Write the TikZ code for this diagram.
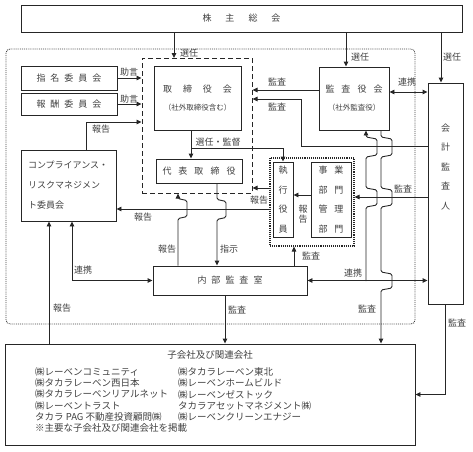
\documentclass[tikz,border=0pt]{standalone}
\usepackage{fontspec}
\setmainfont{Noto Sans CJK JP}
\usetikzlibrary{arrows.meta,positioning,calc}

\begin{document}
\begin{tikzpicture}[x=1pt, y=-1pt,
    box/.style={draw=black!85, line width=0.9pt, inner sep=0pt, text=black!75, font=\fontsize{9}{11}\selectfont},
    lbl/.style={inner sep=0pt, text=black!75, font=\fontsize{9}{11}\selectfont},
    arr/.style={-{Triangle[length=5pt,width=4.5pt]}, line width=0.9pt, draw=black!85},
    arrtwo/.style={{Triangle[length=5pt,width=4.5pt]}-{Triangle[length=5pt,width=4.5pt]}, line width=0.9pt, draw=black!85},
    grpdash/.style={draw=black!85, dash pattern=on 5pt off 3pt, line width=1pt, inner sep=0pt},
    grpdot/.style={draw=black!85, densely dotted, line width=1.1pt, inner sep=0pt}]
    \useasboundingbox (0,0) rectangle (473,451);

    % Company frame
    \draw[densely dotted, line width=0.9pt, black!75, rounded corners=4pt] (6,49) rectangle (415,324);

    % Boxes
    \node[box, minimum width=441pt, minimum height=27pt] (kabunushi) at (241.5,18.5) {株\hspace{14pt}主\hspace{14pt}総\hspace{14pt}会};
    \node[grpdash, minimum width=110pt, minimum height=135pt] (torigrp) at (197,125.5) {};
    \node[box, minimum width=87pt, minimum height=64pt] (torishimari) at (197.5,98) {};
    \node[lbl] (toritext) at (197.5,89) {取\hspace{11pt}締\hspace{11pt}役\hspace{11pt}会};
    \node[lbl, font=\fontsize{7.5}{9}\selectfont] (torisub) at (197.5,108) {（社外取締役含む）};
    \node[box, minimum width=86pt, minimum height=24pt] (daihyo) at (199,171) {代\hspace{7pt}表\hspace{7pt}取\hspace{7pt}締\hspace{7pt}役};
    \node[box, minimum width=96pt, minimum height=24pt] (shimei) at (69,78) {指\hspace{5pt}名\hspace{5pt}委\hspace{5pt}員\hspace{5pt}会};
    \node[box, minimum width=96pt, minimum height=22pt] (hoshu) at (69,104) {報\hspace{5pt}酬\hspace{5pt}委\hspace{5pt}員\hspace{5pt}会};
    \node[box, minimum width=95pt, minimum height=71pt, inner xsep=7pt, text width=81pt, align=left,
          font=\fontsize{9}{20}\selectfont] (compliance) at (68.5,185.5) {コンプライアンス・\\リスクマネジメン\\ト委員会};
    \node[box, minimum width=70pt, minimum height=63pt] (kansa) at (354,98.5) {};
    \node[lbl] (kansatext) at (354,89) {監\hspace{7pt}査\hspace{7pt}役\hspace{7pt}会};
    \node[lbl, font=\fontsize{7.5}{9}\selectfont] (kansasub) at (354,108) {（社外監査役）};
    \node[box, minimum width=35pt, minimum height=221pt, align=center, font=\fontsize{9}{19.5}\selectfont] (kaikei) at (445.5,193.5) {};
    \node[lbl, align=center, font=\fontsize{9}{19.5}\selectfont] (kaikeitext) at (445.5,167) {会\\計\\監\\査\\人};
    \node[grpdot, minimum width=84pt, minimum height=88pt] (shgrp) at (312,202) {};
    \node[box, minimum width=20pt, minimum height=75pt, align=center, font=\fontsize{9}{19.5}\selectfont] (shikko) at (283,199.5) {執\\行\\役\\員};
    \node[box, minimum width=40pt, minimum height=75pt, align=center, font=\fontsize{9}{19.5}\selectfont] (jigyo) at (331,199.5) {事\hspace{7pt}業\\部\hspace{7pt}門\\管\hspace{7pt}理\\部\hspace{7pt}門};
    \node[box, minimum width=154pt, minimum height=29pt] (naibu) at (230,280.5) {内\hspace{5pt}部\hspace{5pt}監\hspace{5pt}査\hspace{5pt}室};
    \node[box, minimum width=410pt, minimum height=101pt] (kogaisha) at (210,394.5) {};

    % Group companies
    \node[lbl, font=\fontsize{9.5}{11.2}\selectfont] (kotitle) at (210,355) {子会社及び関連会社};
    \node[lbl, anchor=west, align=left, font=\fontsize{9.5}{11.2}\selectfont] (kolist) at (35,400) {㈱レーベンコミュニティ\\㈱タカラレーベン西日本\\㈱タカラレーベンリアルネット\\㈱レーベントラスト\\タカラ PAG 不動産投資顧問㈱\\※主要な子会社及び関連会社を掲載};
    \node[lbl, anchor=west, align=left, font=\fontsize{9.5}{11.2}\selectfont] (kolisttwo) at (178,394.5) {㈱タカラレーベン東北\\㈱レーベンホームビルド\\㈱レーベンゼストック\\タカラアセットマネジメント㈱\\㈱レーベンクリーンエナジー};

    % Helper points
    \coordinate (sen1) at (174,58);
    \coordinate (sen2) at ([xshift=-8pt]kansa.north);
    \coordinate (sen3) at ([xshift=-4.5pt]kaikei.north);
    \coordinate (rp) at (86,122);
    \coordinate (k1) at (301,146);
    \coordinate (k2) at (301,99);
    \coordinate (sk) at (191,148);
    \coordinate (h1) at (178,209);
    \coordinate (h2) at (217,209);
    \coordinate (m1) at (294,256);
    \coordinate (m2) at (225,310);
    \coordinate (r1) at (72,281);
    \coordinate (r2) at (49,300);
    \coordinate (ja) at (366,281);
    \coordinate (jb) at (381,290);

    % Election
    \draw[arr] (kabunushi.south -| sen1) -- (sen1);
    \draw[arr] (kabunushi.south -| sen2) -- (sen2);
    \draw[arr] (kabunushi.south -| sen3) -- (sen3);
    \node[lbl] (lsen1) at (189,53) {選任};
    \node[lbl] (lsen2) at (360,57) {選任};
    \node[lbl] (lsen3) at (452,57) {選任};

    % Committees
    \draw[arr] (shimei.east) -- (shimei.east -| torigrp.west);
    \draw[arr] (hoshu.east) -- (hoshu.east -| torigrp.west);
    \draw[arr] (compliance.north -| rp) |- (torigrp.west |- rp);
    \node[lbl] (ljo1) at (129,72) {助言};
    \node[lbl] (ljo2) at (129,99) {助言};
    \node[lbl] (lrep1) at (101,129) {報告};

    % Audit of the board
    \draw[arr] ([yshift=8.5pt]kansa.west) -- ([yshift=8.5pt]kansa.west -| torigrp.east);
    \draw[arr] (kaikei.west |- k1) -- (k1) -- (k2) -- (torigrp.east |- k2);
    \draw[arrtwo] ([yshift=6.5pt]kansa.east) -- ([yshift=6.5pt]kansa.east -| kaikei.west);
    \node[lbl] (lka1) at (277,82) {監査};
    \node[lbl] (lka2) at (277,107) {監査};
    \node[lbl] (lren1) at (407,82) {連携};

    % Execution
    \draw[arr] (torishimari.south -| sk) -- (daihyo.north -| sk);
    \draw[arr] (sk) -| (shikko.north);
    \draw[arr] ([yshift=14pt]shgrp.west) -- ([yshift=14pt]shgrp.west -| torigrp.east);
    \draw[arr] ([yshift=-7pt]shgrp.west) -- ([yshift=-7pt]shgrp.west -| compliance.east);
    \draw[arr] ([yshift=4.5pt]jigyo.west) -- ([yshift=4.5pt]jigyo.west -| shikko.east);
    \draw[arr] ([yshift=-3.5pt]kaikei.west) -- ([yshift=-3.5pt]kaikei.west -| shgrp.east);
    \node[lbl] (lsenk) at (218,142) {選任・監督};
    \node[lbl] (lrep2) at (259,200) {報告};
    \node[lbl] (lrep3) at (143,217) {報告};
    \node[lbl, align=center, font=\fontsize{9}{10}\selectfont] (lrep4) at (303,214) {報\\告};
    \node[lbl] (lka3) at (403,189) {監査};

    % Internal audit
    \draw[arr, rounded corners=1.5pt] (naibu.north -| h1) -- ++(0,-47) -- ++(9,-2) -- ++(0,-16) -- ++(-9,-2) -- (torigrp.south -| h1);
    \draw[arr, rounded corners=1.5pt] (daihyo.south -| h2) -- ++(0,16) -- ++(9,2) -- ++(0,16) -- ++(-9,2) -- (naibu.north -| h2);
    \draw[arr] (naibu.north -| m1) -- (shgrp.south -| m1);
    \draw[arrtwo] (compliance.south -| r1) |- (naibu.west);
    \draw[arrtwo] (naibu.east) -- (naibu.east -| kaikei.west);
    \draw[arr, rounded corners=1.5pt] (ja) -- (366,207) -- (377,205) -- (377,190) -- (366,188) -- (366,157)
        -- (377,155) -- (377,139) -- (366,137) -- (kansa.south -| ja);
    \node[lbl] (lrep5) at (167,249) {報告};
    \node[lbl] (lshiji) at (229,249) {指示};
    \node[lbl] (lka4) at (311,256) {監査};
    \node[lbl] (lren2) at (83,270) {連携};
    \node[lbl] (lren3) at (353,273) {連携};

    % Group audit
    \draw[arr] (kogaisha.north -| r2) -- (compliance.south -| r2);
    \draw[arr] (naibu.south -| m2) -- (kogaisha.north -| m2);
    \draw[arr, rounded corners=1.5pt] (kansa.south -| jb) -- (381,137) -- (392,139) -- (392,155) -- (381,157)
        -- (381,188) -- (392,190) -- (392,205) -- (381,207) -- (381,272) -- (392,274) -- (392,288)
        -- (381,290) -- (kogaisha.north -| jb);
    \draw[arr] (kaikei.south) |- (kogaisha.east);
    \node[lbl] (lrep6) at (62,308) {報告};
    \node[lbl] (lka5) at (237,310) {監査};
    \node[lbl] (lka6) at (367,309) {監査};
    \node[lbl] (lka7) at (457,323) {監査};
\end{tikzpicture}
\end{document}
